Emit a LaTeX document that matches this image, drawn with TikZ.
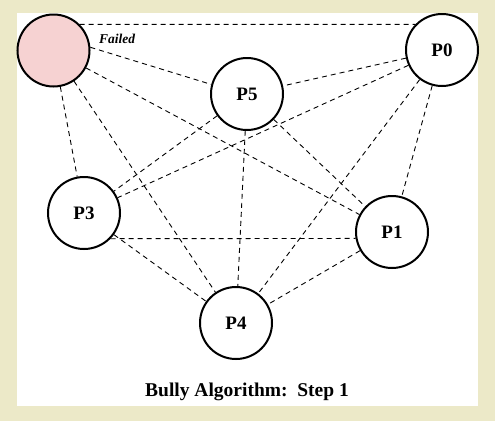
\documentclass[tikz,border=0pt]{standalone}
\usepackage{fontspec}
\setmainfont{Liberation Serif}
\definecolor{bgbeige}{RGB}{236,233,200}
\definecolor{failpink}{RGB}{246,210,210}
\begin{document}
\begin{tikzpicture}[x=1pt,y=-1pt,
  proc/.style={circle,draw=black,line width=2pt,fill=white,minimum size=72pt,inner sep=0pt,font=\bfseries\fontsize{19}{19}\selectfont},
  link/.style={draw=black,line width=0.9pt,dash pattern=on 5pt off 4pt}]
\useasboundingbox (0,0) rectangle (495,421);
\fill[bgbeige] (0,0) rectangle (495,421);
\fill[white] (17,13) rectangle (478,406);
\node[proc,fill=failpink] (F) at (53.5,50.5) {};
\node[proc] (P0) at (442,50) {P0};
\node[proc] (P5) at (247,94) {P5};
\node[proc] (P3) at (84,213) {P3};
\node[proc] (P1) at (392,232) {P1};
\node[proc] (P4) at (236,323) {P4};
\node[font=\bfseries\itshape\fontsize{13.5}{13.5}\selectfont] (fl) at (117,39) {Failed};
\node[font=\bfseries\fontsize{19.5}{19.5}\selectfont] (title) at (247,392) {Bully Algorithm:\ \ Step 1};
\path[link] (F.45) -- (P0.136);
\path[link] (F.5) -- (P5.165);
\path[link] (F) -- (P1);
\path[link] (F) -- (P3);
\path[link] (F) -- (P4);
\path[link] (P0) -- (P5);
\path[link] (P0) -- (P3);
\path[link] (P0) -- (P1);
\path[link] (P0) -- (P4);
\path[link] (P5) -- (P3);
\path[link] (P5) -- (P1);
\path[link] (P5) -- (P4);
\path[link] (P3.-44) -- (P1.-170);
\path[link] (P3) -- (P4);
\path[link] (P1) -- (P4);
\end{tikzpicture}
\end{document}
